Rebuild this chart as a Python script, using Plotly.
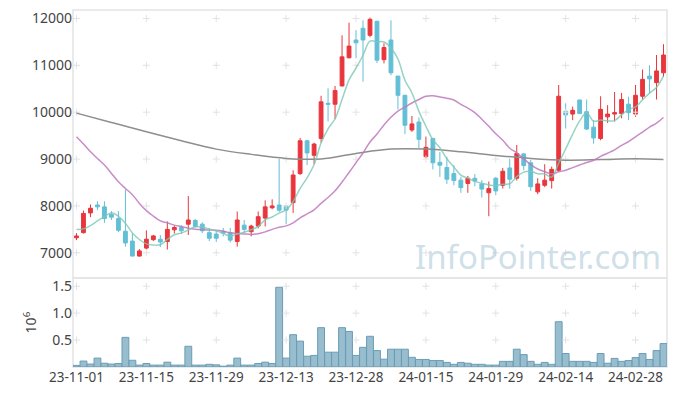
import plotly.graph_objects as go
import pandas as pd

dates = (
    ["23-11-%s" % d for d in ["01","02","03","06","07","08","09","10","13","14","15","16","17","20","21","22","23","24","27","28","29","30"]]
    + ["23-12-%s" % d for d in ["01","04","05","06","07","08","11","12","13","14","15","18","19","20","21","22","26","27","28"]]
    + ["24-01-%s" % d for d in ["02","03","04","05","08","09","10","11","12","15","16","17","18","19","22","23","24","25","26","29","30","31"]]
    + ["24-02-%s" % d for d in ["01","02","05","06","07","08","13","14","15","16","19","20","21","22","23","26","27","28","29"]]
    + ["24-03-%s" % d for d in ["04","05","06"]]
)

opens = [7320, 7430, 7850, 8020, 7980, 7820, 7730, 7460, 7250, 6930,
         7100, 7280, 7290, 7240, 7490, 7540, 7610, 7690, 7610, 7430,
         7400, 7460, 7430, 7240, 7590, 7450, 7570, 7740, 7960, 8020,
         8000, 8070, 8690, 9390, 9080, 9440, 10190, 10170, 10560, 11160,
         11540, 11790, 11640, 11940, 11120, 11540, 10770, 10360, 9620, 9790,
         9050, 9440, 8930, 8820, 8690, 8550, 8480, 8590, 8470, 8280,
         8590, 8440, 8810, 8590, 9110, 8920, 8300, 8440, 8540, 8760,
         10020, 9960, 10260, 10010, 9680, 9440, 9900, 9960, 9970, 10170,
         9960, 10340, 10770, 10630, 10840]
highs = [7420, 7900, 8030, 8100, 8100, 7890, 7890, 8350, 7410, 7080,
         7480, 7380, 7380, 7670, 7580, 7590, 8210, 7720, 7650, 7530,
         7480, 7530, 7530, 7880, 7700, 7600, 7880, 8120, 8140, 9010,
         8020, 8760, 9450, 9410, 9350, 10350, 10510, 10560, 11640, 11910,
         11750, 11960, 12020, 11950, 11470, 11960, 10770, 10370, 9920, 9890,
         9480, 9440, 9150, 9050, 8870, 8620, 8640, 8680, 8550, 8520,
         8620, 8810, 9010, 9300, 9130, 8980, 8590, 8890, 8840, 10580,
         10190, 10120, 10260, 10270, 9830, 10340, 10150, 10430, 10410, 10330,
         10580, 10910, 11000, 11220, 11450]
lows = [7270, 7410, 7760, 7910, 7640, 7700, 7440, 7130, 6930, 6920,
        7070, 7250, 7120, 7070, 7410, 7400, 7380, 7540, 7420, 7250,
        7230, 7350, 7220, 7130, 7420, 7350, 7520, 7560, 7930, 7870,
        7610, 7850, 8660, 8870, 8890, 9350, 9800, 9850, 10550, 11150,
        11150, 10650, 11600, 11050, 11040, 10790, 10060, 9530, 9580, 9230,
        9010, 8780, 8620, 8470, 8440, 8280, 8280, 8420, 8180, 7780,
        8230, 8370, 8370, 8540, 8760, 8320, 8250, 8400, 8370, 8730,
        9650, 9830, 9970, 9620, 9330, 9400, 9770, 9800, 9870, 9830,
        9900, 10270, 10400, 10270, 10750]
closes = [7360, 7840, 7950, 7980, 7730, 7760, 7480, 7210, 6930, 7040,
          7290, 7360, 7230, 7500, 7540, 7470, 7700, 7560, 7470, 7310,
          7310, 7420, 7270, 7700, 7500, 7570, 7770, 7980, 8000, 7910,
          7910, 8660, 9390, 9130, 9320, 10220, 10170, 10460, 11180, 11410,
          11480, 11540, 11980, 11110, 11380, 10840, 10360, 9720, 9750, 9420,
          9250, 8920, 8870, 8570, 8540, 8390, 8590, 8530, 8360, 8370,
          8320, 8740, 8570, 9120, 8860, 8410, 8470, 8550, 8780, 10340,
          9940, 10040, 9970, 9640, 9450, 10060, 9960, 9990, 10270, 9990,
          10360, 10700, 10710, 10880, 11220]
volume_m = [0.03, 0.11, 0.055, 0.165, 0.07, 0.055, 0.065, 0.55, 0.125, 0.035,
            0.065, 0.035, 0.035, 0.09, 0.035, 0.035, 0.385, 0.035, 0.035, 0.05,
            0.04, 0.015, 0.035, 0.165, 0.035, 0.035, 0.065, 0.09, 0.065, 1.48,
            0.165, 0.60, 0.48, 0.20, 0.215, 0.73, 0.275, 0.275, 0.73, 0.66,
            0.215, 0.365, 0.57, 0.305, 0.145, 0.33, 0.33, 0.33, 0.18, 0.14,
            0.14, 0.12, 0.12, 0.085, 0.05, 0.085, 0.07, 0.05, 0.05, 0.035,
            0.035, 0.105, 0.105, 0.33, 0.23, 0.105, 0.05, 0.085, 0.05, 0.84,
            0.25, 0.105, 0.105, 0.105, 0.085, 0.25, 0.07, 0.16, 0.105, 0.12,
            0.175, 0.25, 0.14, 0.305, 0.435]

# moving-average values before enough in-window history exists
ma5_head = [7500, 7510, 7580, 7680]
ma20_head = [9476, 9319, 9154, 9013, 8871, 8694, 8515, 8373, 8240, 8054,
             7900, 7783, 7680, 7640, 7590, 7560, 7525, 7505, 7495]
# long moving average at sample days
ma_long_idx = [0, 5, 10, 15, 20, 25, 30, 35, 40, 45, 50, 55, 60, 65, 70, 75, 80, 84]
ma_long_vals = [9980, 9780, 9581, 9390, 9212, 9100, 9014, 9000, 9120, 9212,
                9212, 9156, 9078, 9014, 8977, 8988, 9005, 8992]

price_ticks = [7000, 8000, 9000, 10000, 11000, 12000]
vol_ticks = [0.5, 1.0, 1.5]
tick_idx = list(range(0, 85, 10))

cl = pd.Series(closes)
ma5 = cl.rolling(5).mean().tolist()
ma5[:len(ma5_head)] = ma5_head
ma20 = cl.rolling(20).mean().tolist()
ma20[:len(ma20_head)] = ma20_head

RED = "#e8363c"
BLUE = "#62bfd6"

fig = go.Figure()

tick_dates = [dates[i] for i in tick_idx]

fig.add_trace(go.Bar(x=dates, y=volume_m, xaxis="x", yaxis="y2",
                     marker=dict(color="rgba(140,182,201,0.9)", line=dict(color="#6a9db5", width=1)),
                     showlegend=False))

# grid crosses
gx, gy = [], []
for d in tick_dates:
    for p in price_ticks:
        gx.append(d); gy.append(p)
fig.add_trace(go.Scatter(x=gx, y=gy, mode="markers", xaxis="x", yaxis="y",
                         marker=dict(symbol="cross-thin", size=5, line=dict(color="#e2e2e2", width=1)),
                         hoverinfo="skip", showlegend=False))
gx2, gy2 = [], []
for d in tick_dates:
    for v in vol_ticks:
        gx2.append(d); gy2.append(v)
fig.add_trace(go.Scatter(x=gx2, y=gy2, mode="markers", xaxis="x", yaxis="y2",
                         marker=dict(symbol="cross-thin", size=5, line=dict(color="#e2e2e2", width=1)),
                         hoverinfo="skip", showlegend=False))

fig.add_trace(go.Scatter(x=[dates[i] for i in ma_long_idx], y=ma_long_vals, mode="lines",
                         line=dict(color="#8e8e8e", width=1.5, shape="spline"),
                         xaxis="x", yaxis="y", showlegend=False, hoverinfo="skip"))
fig.add_trace(go.Scatter(x=dates, y=ma20, mode="lines",
                         line=dict(color="rgba(190,120,190,0.85)", width=1.5, shape="spline"),
                         xaxis="x", yaxis="y", showlegend=False))

fig.add_trace(go.Candlestick(
    x=dates, open=opens, high=highs, low=lows, close=closes,
    increasing=dict(line=dict(color=RED, width=1), fillcolor=RED),
    decreasing=dict(line=dict(color=BLUE, width=1), fillcolor=BLUE),
    whiskerwidth=0, xaxis="x", yaxis="y", showlegend=False))

fig.add_trace(go.Scatter(x=dates, y=ma5, mode="lines",
                         line=dict(color="rgba(125,200,180,0.8)", width=1.5, shape="spline"),
                         xaxis="x", yaxis="y", showlegend=False))

split = 0.249
font_family = "Noto Sans, Open Sans, DejaVu Sans, sans-serif"
fig.update_layout(
    width=677, height=396,
    margin=dict(l=73, r=10, t=10, b=29, autoexpand=False),
    paper_bgcolor="white", plot_bgcolor="white",
    bargap=0.02, boxgap=0.22,
    font=dict(family=font_family, color="#444", size=14),
    xaxis=dict(type="category", categoryorder="array", categoryarray=dates,
               range=[-0.5, len(dates) - 0.5], anchor="y2", automargin=False,
               tickmode="array", tickvals=tick_dates, ticktext=tick_dates, ticks="", tickangle=0,
               showgrid=False, zeroline=False, showline=False,
               rangeslider=dict(visible=False), tickfont=dict(size=13.5, color="#444")),
    yaxis=dict(domain=[split, 1], range=[6460, 12180], tickmode="array", tickvals=price_ticks,
               tickformat="d", automargin=False,
               showgrid=False, zeroline=False, showline=False, ticks="",
               tickfont=dict(size=14, color="#444")),
    yaxis2=dict(domain=[0, split], range=[0, 1.65], tickmode="array", tickvals=vol_ticks,
                tickformat=".1f", showgrid=False, zeroline=False, showline=False, ticks="",
                tickfont=dict(size=14, color="#444"), automargin=False,
                title=dict(text="10<sup>6</sup>", font=dict(size=14, color="#444"), standoff=12)),
    shapes=[
        dict(type="rect", xref="paper", yref="paper", x0=0, x1=1, y0=split, y1=1,
             line=dict(color="#e4e4e4", width=1.5), layer="below"),
        dict(type="rect", xref="paper", yref="paper", x0=0, x1=1, y0=0, y1=split,
             line=dict(color="#e4e4e4", width=1.5), layer="below"),
    ],
    annotations=[dict(text="InfoPointer.com", xref="paper", yref="paper", x=0.782, y=0.31,
                      xanchor="center", yanchor="middle",
                      showarrow=False, font=dict(size=33, color="rgba(175,203,219,0.62)", family=font_family))],
)

fig.write_html("out.html", config={"displayModeBar": False},
               post_script="document.body.style.margin='0';document.body.style.overflow='hidden';")
